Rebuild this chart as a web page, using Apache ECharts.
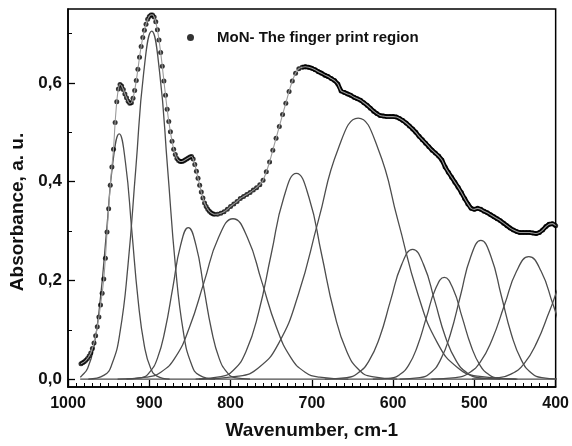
<!DOCTYPE html>
<html>
<head>
<meta charset="utf-8">
<script src="https://cdn.jsdelivr.net/npm/echarts@6/dist/echarts.min.js"></script>
<style>
html,body{margin:0;padding:0;background:#fff;}
#chart{width:572px;height:446px;}
</style>
</head>
<body>
<div id="chart"></div>
<script>
// ---- Data ----
const seriesName = 'MoN- The finger print region';
const xTicks = [1000, 900, 800, 700, 600, 500, 400];
const yTickLabels = [0, 0.2, 0.4, 0.6];
const yMinorTicks = [0.1, 0.3, 0.5, 0.7];

// Experimental spectrum (wavenumber, absorbance)
const wavenumbers = [
984,982,980,978,976,974,972,970,968,966,964,962,960,958,956,954,952,950,948,946,944,942,940,938,936,934,932,930,928,926,924,922,920,918,916,914,912,910,908,906,904,902,900,898,896,894,892,890,888,886,884,882,880,878,876,874,872,870,868,866,864,862,860,858,856,854,852,850,848,846,844,842,840,838,836,834,832,830,828,826,824,822,820,
816,812,808,804,800,796,792,788,784,780,776,772,768,764,760,756,752,748,744,740,736,732,728,724,720,716,712,708,704,700,696,692,688,684,680,676,672,668,664,660,656,652,648,644,640,636,632,628,624,620,616,612,608,604,600,596,592,588,584,580,576,572,568,564,560,556,552,548,544,540,536,532,528,524,520,516,512,508,504,500,496,492,488,484,480,476,472,468,464,460,456,452,448,444,440,436,432,428,424,420,416,412,408,404,400];
const absorbance = [
.031,.033,.035,.038,.042,.047,.053,.062,.073,.088,.106,.126,.150,.174,.203,.245,.298,.345,.393,.430,.466,.520,.562,.588,.597,.594,.587,.578,.570,.563,.559,.560,.569,.585,.605,.628,.652,.674,.692,.707,.719,.729,.735,.738,.738,.734,.724,.708,.687,.662,.634,.604,.575,.547,.522,.501,.482,.466,.455,.447,.443,.441,.441,.442,.444,.446,.448,.450,.451,.446,.435,.421,.407,.393,.379,.367,.357,.350,.344,.340,.337,.335,.334,
.334,.336,.339,.344,.350,.355,.360,.366,.370,.374,.378,.383,.388,.394,.403,.420,.440,.464,.488,.512,.536,.559,.583,.604,.620,.629,.632,.633,.632,.630,.627,.623,.620,.616,.613,.609,.605,.598,.584,.581,.578,.575,.571,.568,.565,.560,.555,.549,.543,.538,.534,.533,.532,.532,.532,.531,.528,.524,.519,.513,.507,.500,.492,.485,.478,.471,.464,.458,.452,.444,.430,.419,.409,.399,.389,.378,.366,.355,.346,.344,.346,.344,.340,.337,.333,.329,.325,.321,.316,.311,.306,.302,.299,.297,.297,.297,.297,.296,.295,.297,.302,.309,.314,.315,.311];

// Fitted component bands (wavenumber, absorbance)
const peak1 = [[985,.004],[983.5,.006],[975.8,.022],[968,.067],[960.3,.161],[952.5,.301],[944.8,.439],[937,.497],[929.3,.439],[921.5,.301],[913.8,.161],[906,.067],[898.3,.022],[890.5,.006],[875,0]];
const peak2 = [[975,0],[955.5,.008],[945.8,.031],[936,.095],[926.3,.229],[916.5,.428],[906.8,.622],[897,.705],[887.3,.622],[877.5,.428],[867.8,.229],[858,.095],[848.3,.031],[838.5,.008],[819,0]];
const peak3 = [[928,0],[909,.003],[899.5,.014],[890,.042],[880.5,.100],[871,.186],[861.5,.271],[852,.307],[842.5,.271],[833,.186],[823.5,.100],[814,.042],[804.5,.014],[795,.003],[776,0]];
const peak4 = [[939,0],[903.5,.004],[885.8,.014],[868,.044],[850.3,.106],[832.5,.197],[814.8,.287],[797,.325],[779.3,.287],[761.5,.197],[743.8,.106],[726,.044],[708.3,.014],[690.5,.004],[655,0]];
const peak5 = [[843,0],[812,.005],[796.5,.018],[781,.056],[765.5,.135],[750,.253],[734.5,.368],[719,.417],[703.5,.368],[688,.253],[672.5,.135],[657,.056],[641.5,.018],[626,.005],[595,0]];
const peak6 = [[839,0],[790,.006],[765.5,.023],[741,.072],[716.5,.172],[692,.321],[667.5,.467],[643,.529],[618.5,.467],[594,.321],[569.5,.172],[545,.072],[520.5,.023],[496,.006],[447,0]];
const peak7 = [[684,0],[657,.003],[643.5,.012],[630,.036],[616.5,.085],[603,.160],[589.5,.232],[576,.263],[562.5,.232],[549,.160],[535.5,.085],[522,.036],[508.5,.012],[495,.003],[468,0]];
const peak8 = [[625,0],[603,.002],[592,.009],[581,.028],[570,.067],[559,.125],[548,.182],[537,.206],[526,.182],[515,.125],[504,.067],[493,.028],[482,.009],[471,.002],[449,0]];
const peak9 = [[592,0],[567,.003],[554.5,.012],[542,.038],[529.5,.091],[517,.170],[504.5,.248],[492,.281],[479.5,.248],[467,.170],[454.5,.091],[442,.038],[429.5,.012],[417,.003],[392,0]];
const peak10 = [[553,0],[523,.003],[508,.011],[493,.034],[478,.081],[463,.150],[448,.219],[433,.248],[418,.219],[403,.150],[388,.081],[373,.034]];
const peak11 = [[503,0],[471,.003],[455,.010],[439,.031],[423,.075],[407,.140],[391,.203],[375,.230]];
const baseline = [[985,0],[400,0]];
const peaks = [peak1,peak2,peak3,peak4,peak5,peak6,peak7,peak8,peak9,peak10,peak11];

// ---- Chart ----
const FONT = '"Liberation Sans", Arial, sans-serif';
const spectrum = wavenumbers.map((w, i) => [w, absorbance[i]]);
const dense = spectrum.filter(p => p[0] <= 712);

const chart = echarts.init(document.getElementById('chart'), null, {renderer: 'canvas'});

const series = [];
peaks.forEach((pk, i) => {
  series.push({
    name: 'band' + (i + 1), type: 'line', data: pk, showSymbol: false, symbol: 'none',
    smooth: 0.5, clip: true, silent: true,
    lineStyle: {color: '#4d4d4d', width: 1.3}, z: 2
  });
});
series.push({
  name: 'baseline', type: 'line', data: baseline, symbol: 'none', silent: true,
  lineStyle: {color: '#4d4d4d', width: 1.3}, z: 2
});
series.push({
  name: 'band-dense', type: 'line', data: dense, symbol: 'none', silent: true,
  lineStyle: {color: '#000', width: 4.5}, z: 3
});
series.push({
  name: seriesName, type: 'scatter', data: spectrum, symbol: 'circle', symbolSize: 5,
  itemStyle: {color: '#000'}, z: 4
});
series.push({
  name: 'envelope', type: 'line', data: spectrum, symbol: 'none', smooth: 0.3, silent: true,
  lineStyle: {color: '#9a9a9a', width: 1.1}, z: 5
});

chart.setOption({
  animation: false,
  backgroundColor: '#fff',
  grid: {left: 68, right: 15, top: 9, bottom: 59, show: true, borderColor: '#000', borderWidth: 1.5, backgroundColor: 'transparent'},
  legend: {
    data: [{name: seriesName, icon: 'circle'}],
    left: 182, top: 25, itemWidth: 7, itemHeight: 7,
    textStyle: {fontFamily: FONT, fontWeight: 'bold', fontSize: 15, color: '#111', padding: [0, 0, 0, 18]},
    selectedMode: false
  },
  xAxis: {
    type: 'value', inverse: true, min: 400, max: 1000, interval: 100,
    name: 'Wavenumber, cm-1', nameLocation: 'middle', nameGap: 34,
    nameTextStyle: {fontFamily: FONT, fontWeight: 'bold', fontSize: 19, color: '#111'},
    axisLine: {show: true, onZero: false, lineStyle: {color: '#000', width: 1.5}},
    axisTick: {show: true, inside: true, length: 7, lineStyle: {color: '#000', width: 1.3}},
    minorTick: {show: true, splitNumber: 10, length: 4, lineStyle: {color: '#000', width: 1}},
    axisLabel: {fontFamily: FONT, fontWeight: 'bold', fontSize: 16, color: '#111', margin: 9,
      customValues: xTicks, formatter: v => String(v)},
    splitLine: {show: false}, minorSplitLine: {show: false}
  },
  yAxis: [{
    type: 'value', min: -0.016, max: 0.75,
    name: 'Absorbance, a. u.', nameLocation: 'middle', nameGap: 40, nameRotate: 90,
    nameTextStyle: {fontFamily: FONT, fontWeight: 'bold', fontSize: 19, color: '#111', padding: [0, 28, 0, 0]},
    axisLine: {show: true, onZero: false, lineStyle: {color: '#000', width: 1.5}},
    axisTick: {show: true, inside: true, length: 7, customValues: yTickLabels, lineStyle: {color: '#000', width: 1.3}},
    axisLabel: {fontFamily: FONT, fontWeight: 'bold', fontSize: 17, color: '#111', margin: 6,
      customValues: yTickLabels, formatter: v => v.toFixed(1).replace('.', ',')},
    splitLine: {show: false}
  }, {
    type: 'value', min: -0.016, max: 0.75, position: 'left', offset: 0,
    axisLine: {show: false},
    axisTick: {show: true, inside: true, length: 4, customValues: yMinorTicks, lineStyle: {color: '#000', width: 1}},
    axisLabel: {show: false},
    splitLine: {show: false}
  }],
  series: series
});
</script>
</body>
</html>
